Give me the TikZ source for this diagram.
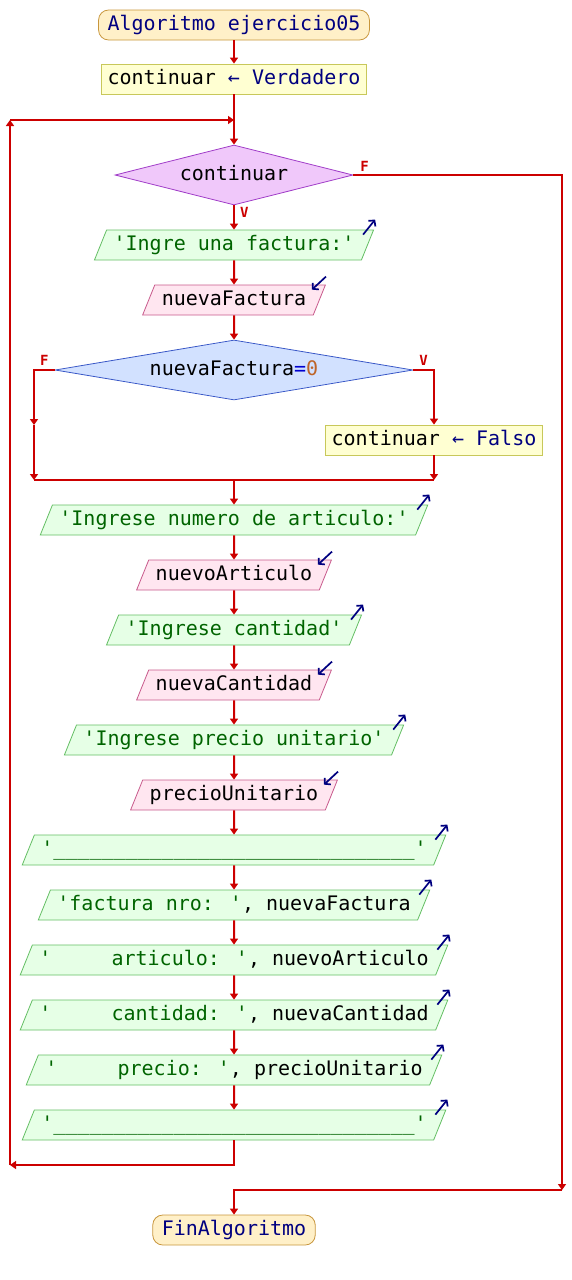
\documentclass[tikz,border=0pt]{standalone}
\usepackage{fontspec}
\newfontfamily\pse{DejaVu Sans Mono}
\usetikzlibrary{shapes.geometric}
\usetikzlibrary{arrows.meta}
\definecolor{rojo}{RGB}{204,0,0}
\definecolor{azulo}{RGB}{0,0,128}
\definecolor{azulc}{RGB}{0,0,210}
\definecolor{verde}{RGB}{0,100,0}
\definecolor{cafe}{RGB}{190,100,40}
\definecolor{inifill}{RGB}{255,240,200}
\definecolor{inidraw}{RGB}{200,150,60}
\definecolor{asigfill}{RGB}{255,255,210}
\definecolor{asigdraw}{RGB}{200,200,90}
\definecolor{salfill}{RGB}{230,255,230}
\definecolor{saldraw}{RGB}{100,190,100}
\definecolor{entfill}{RGB}{255,230,240}
\definecolor{entdraw}{RGB}{200,90,140}
\definecolor{dunofill}{RGB}{240,200,250}
\definecolor{dunodraw}{RGB}{160,60,200}
\definecolor{ddosfill}{RGB}{210,225,255}
\definecolor{ddosdraw}{RGB}{60,90,200}
\newcommand{\cad}[1]{\textcolor{verde}{#1}}
\newcommand{\kw}[1]{\textcolor{azulo}{#1}}
\newcommand{\guiones}{\foreach \k in {1,...,30}{\_}}
\tikzset{%
  base/.style = {font=\pse\fontsize{20}{24}\selectfont, text height=15pt,
        text depth=5pt, inner ysep=5pt, inner xsep=7pt, line width=0.8pt},
  inicio/.style = {base, rectangle, rounded corners=10pt, draw=inidraw,
        fill=inifill, inner xsep=9pt, text=azulo},
  asig/.style = {base, rectangle, draw=asigdraw, fill=asigfill, inner xsep=6pt},
  salida/.style = {base, trapezium, trapezium left angle=68,
        trapezium right angle=112, draw=saldraw, fill=salfill},
  entrada/.style = {base, trapezium, trapezium left angle=68,
        trapezium right angle=112, draw=entdraw, fill=entfill},
  decision/.style = {base, diamond, aspect=6, inner sep=0pt},
  flecha/.style = {-{Triangle[length=6pt,width=8pt]}, draw=rojo, line width=2pt},
  linea/.style = {draw=rojo, line width=2pt},
  etiq/.style = {text=rojo, font=\pse\bfseries\fontsize{14}{16}\selectfont,
        inner sep=1pt},
  icono/.style = {-{Straight Barb[length=4pt,width=9pt]}, draw=azulo,
        line width=1.7pt}
}
\begin{document}
\begin{tikzpicture}[x=1pt, y=-1pt]
  \useasboundingbox (0,0) rectangle (572,1280);
  \node[inicio] (ini) at (234,25) {Algoritmo ejercicio05};
  \node[asig] (a1) at (234,79) {continuar \kw{← Verdadero}};
  \node[decision, draw=dunodraw, fill=dunofill, minimum width=238pt,
        minimum height=60pt] (d1) at (234,175) {continuar};
  \node[salida] (s1) at (234,245) {\cad{'Ingre una factura:'}};
  \node[entrada] (e1) at (234,300) {nuevaFactura};
  \node[decision, draw=ddosdraw, fill=ddosfill, minimum width=358pt,
        minimum height=60pt] (d2) at (234,370)
        {nuevaFactura\textcolor{azulc}{=}\textcolor{cafe}{0}};
  \node[asig] (a2) at (434,440) {continuar \kw{← Falso}};
  \node[salida] (s2) at (234,520) {\cad{'Ingrese numero de articulo:'}};
  \node[entrada] (e2) at (234,575) {nuevoArticulo};
  \node[salida] (s3) at (234,630) {\cad{'Ingrese cantidad'}};
  \node[entrada] (e3) at (234,685) {nuevaCantidad};
  \node[salida] (s4) at (234,740) {\cad{'Ingrese precio unitario'}};
  \node[entrada] (e4) at (234,795) {precioUnitario};
  \node[salida] (s5) at (234,850) {\cad{'\guiones'}};
  \node[salida] (s6) at (234,905) {\cad{'factura nro: '}, nuevaFactura};
  \node[salida] (s7) at (234,960) {\cad{'\ \ \ \ \ articulo: '}, nuevoArticulo};
  \node[salida] (s8) at (234,1015) {\cad{'\ \ \ \ \ cantidad: '}, nuevaCantidad};
  \node[salida] (s9) at (234,1070) {\cad{'\ \ \ \ \ precio: '}, precioUnitario};
  \node[salida] (s10) at (234,1125) {\cad{'\guiones'}};
  \node[inicio] (fin) at (234,1230) {FinAlgoritmo};

  \coordinate (lazo) at (234,120);
  \coordinate (lz1) at (10,1165);
  \coordinate (lz2) at (10,120);
  \coordinate (fF) at (562,1190);
  \coordinate (fa) at (34,425);
  \coordinate (fb) at (34,480);
  \coordinate (vb) at (434,480);
  \coordinate (junta) at (234,480);

  \foreach \a/\b in {ini/a1, a1/d1, s1/e1, e1/d2, s2/e2, e2/s3, s3/e3,
        e3/s4, s4/e4, e4/s5, s5/s6, s6/s7, s7/s8, s8/s9, s9/s10}
    \draw[flecha] (\a) -- (\b);
  \draw[flecha] (d1) -- (s1) node[etiq, at start, anchor=north west, xshift=4pt] {V};
  \draw[flecha] (d1.east) -| (fF)
        node[etiq, at start, anchor=south west, xshift=5pt, yshift=2pt] {F};
  \draw[flecha] (fF) -| (fin);
  \draw[flecha] (d2.west) -| (fa) node[etiq, pos=0.25, above, yshift=3pt] {F};
  \draw[flecha] (fa) -- (fb);
  \draw[flecha] (d2.east) -| (a2) node[etiq, pos=0.25, above, yshift=3pt] {V};
  \draw[flecha] (a2) -- (vb);
  \draw[linea] (fb) -- (vb);
  \draw[flecha] (junta) -- (s2);
  \draw[flecha] (s10) |- (lz1);
  \draw[flecha] (lz1) -- (lz2);
  \draw[flecha] (lz2) -- (lazo);

  \foreach \n in {s1,s2,s3,s4,s5,s6,s7,s8,s9,s10}
    \draw[icono] ([shift={(-11pt,-5pt)}]\n.top right corner)
        -- ([shift={(1pt,10pt)}]\n.top right corner);
  \foreach \n in {e1,e2,e3,e4}
    \draw[icono] ([shift={(0pt,8pt)}]\n.top right corner)
        -- ([shift={(-14pt,-5pt)}]\n.top right corner);
\end{tikzpicture}
\end{document}
